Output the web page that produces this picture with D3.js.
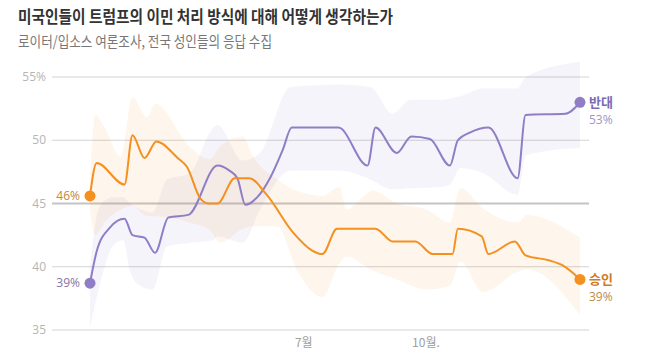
<!DOCTYPE html>
<html><head><meta charset="utf-8">
<script src="https://cdn.jsdelivr.net/npm/d3@7"></script>
<style>
body{margin:0;background:#fff;}
svg{display:block;}
</style></head><body>
<svg id="c" width="658" height="364"></svg>
<script>
// ---- data ----
const title = "미국인들이 트럼프의 이민 처리 방식에 대해 어떻게 생각하는가";
const subtitle = "로이터/입소스 여론조사, 전국 성인들의 응답 수집";
const yTicks = [35, 40, 45, 50, 55];
const xTickDates = ["2025-07-01", "2025-10-01"];
const xTickLabels = ["7월", "10월."];
const seriesNames = ["반대", "승인"];

const disapproveLine = [
 ["2025-01-21",38.7],["2025-01-26",41.2],["2025-02-05",43.1],["2025-02-16",43.8],["2025-02-22",42.5],
 ["2025-03-03",42.3],["2025-03-11",41.1],["2025-03-21",43.9],["2025-04-05",44.1],["2025-04-27",48.0],
 ["2025-05-06",47.6],["2025-05-12",47.0],["2025-05-18",44.9],["2025-05-27",45.5],["2025-06-06",47.1],
 ["2025-06-15",49.2],["2025-06-22",51.0],["2025-07-27",51.0],["2025-08-18",48.0],["2025-08-24",51.0],
 ["2025-09-09",49.0],["2025-09-20",50.3],["2025-10-04",50.1],["2025-10-19",48.0],["2025-10-25",50.0],
 ["2025-11-03",50.6],["2025-11-17",51.0],["2025-12-09",47.0],["2025-12-15",52.0],["2026-01-14",52.1],
 ["2026-01-25",53.0]
];
const approveLine = [
 ["2025-01-21",45.6],["2025-01-26",48.2],["2025-02-16",46.5],["2025-02-22",50.4],["2025-03-03",48.6],
 ["2025-03-12",49.9],["2025-03-28",48.6],["2025-04-04",47.9],["2025-04-14",45.4],["2025-04-20",45.0],
 ["2025-04-27",45.0],["2025-05-10",47.0],["2025-05-21",47.0],["2025-06-03",45.7],["2025-06-23",42.7],
 ["2025-07-07",41.3],["2025-07-15",41.0],["2025-07-26",43.0],["2025-08-24",43.0],["2025-09-06",42.0],
 ["2025-09-23",42.0],["2025-10-06",41.0],["2025-10-21",41.0],["2025-10-25",43.0],["2025-11-12",42.4],
 ["2025-11-17",41.0],["2025-12-07",42.0],["2025-12-15",40.9],["2026-01-02",40.5],["2026-01-12",40.1],
 ["2026-01-25",39.0]
];
// [date, low, high]
const disapproveBand = [
 ["2025-01-21",35.2,40.0],["2025-01-28",38.4,44.7],["2025-02-07",41.6,45.5],["2025-02-15",42.1,45.5],
 ["2025-02-20",39.7,45.0],["2025-02-25",38.7,44.7],["2025-03-09",38.2,44.3],["2025-03-20",41.6,46.9],
 ["2025-04-06",41.9,47.4],["2025-04-24",42.1,51.0],["2025-04-27",42.4,51.2],["2025-05-16",41.9,48.4],
 ["2025-05-29",44.5,49.0],["2025-06-21",47.6,54.2],["2025-07-28",47.6,54.4],["2025-08-20",46.9,54.2],
 ["2025-09-06",46.1,52.1],["2025-09-19",46.2,53.2],["2025-10-12",46.3,53.2],["2025-10-19",46.5,53.3],
 ["2025-10-27",47.8,53.5],["2025-11-13",47.4,54.1],["2025-12-09",45.7,54.1],["2025-12-15",48.8,55.0],
 ["2026-01-25",49.4,56.2]
];
const approveBand = [
 ["2025-01-21",44.5,46.5],["2025-01-25",42.5,52.0],["2025-02-01",43.5,51.0],["2025-02-13",44.5,48.7],
 ["2025-02-22",44.8,53.4],["2025-03-05",44.0,51.8],["2025-03-11",44.0,52.9],["2025-04-06",43.5,49.5],
 ["2025-04-21",42.9,48.5],["2025-04-29",41.9,49.5],["2025-05-16",43.0,50.3],["2025-05-24",43.2,48.7],
 ["2025-06-11",43.2,46.9],["2025-06-26",39.7,46.0],["2025-07-15",37.6,45.6],["2025-07-28",40.3,46.3],
 ["2025-08-02",40.8,44.5],["2025-08-22",39.7,46.0],["2025-09-09",39.0,45.0],["2025-10-02",38.2,44.5],
 ["2025-10-19",38.5,43.5],["2025-10-27",40.4,46.2],["2025-11-13",38.0,44.6],["2025-12-09",39.6,43.5],
 ["2025-12-16",39.8,44.1],["2026-01-25",36.2,42.3]
];

// ---- drawing ----
const parse = d3.timeParse("%Y-%m-%d");
const svg = d3.select("#c");
const purple = "#8f7ec6", orange = "#f5901f";

const x = d3.scaleTime().domain([parse("2025-01-21"), parse("2026-01-25")]).range([90, 580]);
const y = d3.scaleLinear().domain([35, 55]).range([330, 77]);
const gridX0 = 52, gridX1 = 589;

svg.append("text").attr("x", 18).attr("y", 23)
  .attr("font-family", "'Noto Sans CJK KR', sans-serif").attr("font-weight", 700)
  .attr("font-size", 17).attr("fill", "#333")
  .attr("textLength", 375).attr("lengthAdjust", "spacingAndGlyphs").text(title);
svg.append("text").attr("x", 18).attr("y", 47)
  .attr("font-family", "'Noto Sans CJK KR', sans-serif").attr("font-weight", 400)
  .attr("font-size", 15).attr("fill", "#777")
  .attr("textLength", 254).attr("lengthAdjust", "spacingAndGlyphs").text(subtitle);

// grid
const grid = svg.append("g");
grid.selectAll("line").data(yTicks).join("line")
  .attr("x1", gridX0).attr("x2", gridX1)
  .attr("y1", d => y(d)).attr("y2", d => y(d))
  .attr("stroke", d => d === 45 ? "#c4c4c4" : "#d3d3d3")
  .attr("stroke-width", d => d === 45 ? 2 : 1);
grid.selectAll("text").data(yTicks).join("text")
  .attr("x", 46).attr("y", d => y(d)).attr("dy", "0.35em")
  .attr("text-anchor", "end").attr("font-family", "'Open Sans', sans-serif")
  .attr("font-size", 12).attr("fill", "#b5b5b5")
  .text(d => d === 55 ? d + "%" : d);

// x ticks
svg.append("g").selectAll("text").data(xTickDates).join("text")
  .attr("x", d => x(parse(d))).attr("y", 347)
  .attr("text-anchor", "middle").attr("font-family", "'Noto Sans CJK KR', sans-serif")
  .attr("font-size", 12).attr("fill", "#a0a0a0")
  .text((d, i) => xTickLabels[i]);

// bands
const area = d3.area().x(d => x(parse(d[0]))).y0(d => y(d[1])).y1(d => y(d[2])).curve(d3.curveMonotoneX);
svg.append("path").datum(disapproveBand).attr("d", area).attr("fill", purple).attr("fill-opacity", 0.085);
svg.append("path").datum(approveBand).attr("d", area).attr("fill", orange).attr("fill-opacity", 0.085);

// lines
const line = d3.line().x(d => x(parse(d[0]))).y(d => y(d[1])).curve(d3.curveMonotoneX);
svg.append("path").datum(disapproveLine).attr("d", line).attr("fill", "none")
  .attr("stroke", purple).attr("stroke-width", 2);
svg.append("path").datum(approveLine).attr("d", line).attr("fill", "none")
  .attr("stroke", orange).attr("stroke-width", 2);

// endpoints
function dots(data, color) {
  const f = data[0], l = data[data.length - 1];
  [f, l].forEach(p => svg.append("circle").attr("cx", x(parse(p[0]))).attr("cy", y(p[1]))
    .attr("r", 5.5).attr("fill", color));
}
dots(disapproveLine, purple);
dots(approveLine, orange);

// start labels
const fA = approveLine[0], fD = disapproveLine[0];
svg.append("text").attr("x", x(parse(fA[0])) - 10).attr("y", y(fA[1])).attr("dy", "0.35em")
  .attr("text-anchor", "end").attr("font-family", "'Open Sans', sans-serif").attr("font-size", 12)
  .attr("fill", "#c0883f").text(Math.round(fA[1]) + "%");
svg.append("text").attr("x", x(parse(fD[0])) - 10).attr("y", y(fD[1])).attr("dy", "0.35em")
  .attr("text-anchor", "end").attr("font-family", "'Open Sans', sans-serif").attr("font-size", 12)
  .attr("fill", "#8276a8").text(Math.round(fD[1]) + "%");

// end labels
const lA = approveLine[approveLine.length - 1], lD = disapproveLine[disapproveLine.length - 1];
function endLabel(p, name, c1, c2) {
  const px = x(parse(p[0])) + 9, py = y(p[1]);
  svg.append("text").attr("x", px).attr("y", py + 5).attr("font-family", "'Noto Sans CJK KR', sans-serif")
    .attr("font-weight", 700).attr("font-size", 13).attr("fill", c1).text(name);
  svg.append("text").attr("x", px).attr("y", py + 22).attr("font-family", "'Open Sans', sans-serif")
    .attr("font-size", 12).attr("fill", c2).text(Math.round(p[1]) + "%");
}
endLabel(lD, seriesNames[0], "#7c6bb2", "#a095c4");
endLabel(lA, seriesNames[1], "#d07a1c", "#c08a4a");
</script>
</body></html>
